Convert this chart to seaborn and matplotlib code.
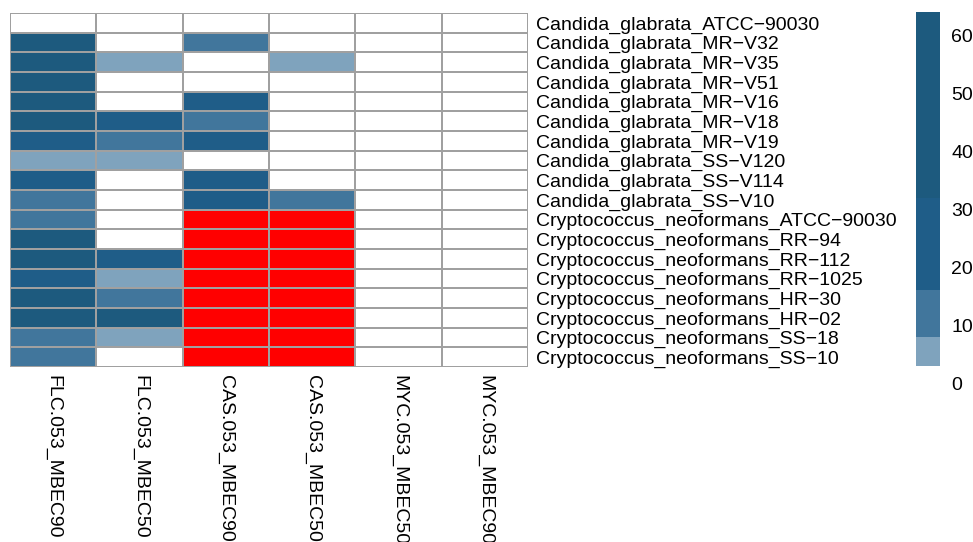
import numpy as np
import pandas as pd
import matplotlib
matplotlib.use("Agg")
import matplotlib.pyplot as plt
import seaborn as sns
from matplotlib.colors import ListedColormap, BoundaryNorm

# =========================
# DATA (MBEC values per strain / drug)
# =========================
strains = [
    "Candida_glabrata_ATCC−90030",
    "Candida_glabrata_MR−V32",
    "Candida_glabrata_MR−V35",
    "Candida_glabrata_MR−V51",
    "Candida_glabrata_MR−V16",
    "Candida_glabrata_MR−V18",
    "Candida_glabrata_MR−V19",
    "Candida_glabrata_SS−V120",
    "Candida_glabrata_SS−V114",
    "Candida_glabrata_SS−V10",
    "Cryptococcus_neoformans_ATCC−90030",
    "Cryptococcus_neoformans_RR−94",
    "Cryptococcus_neoformans_RR−112",
    "Cryptococcus_neoformans_RR−1025",
    "Cryptococcus_neoformans_HR−30",
    "Cryptococcus_neoformans_HR−02",
    "Cryptococcus_neoformans_SS−18",
    "Cryptococcus_neoformans_SS−10",
]
drugs = ["FLC.053_MBEC90", "FLC.053_MBEC50", "CAS.053_MBEC90",
         "CAS.053_MBEC50", "MYC.053_MBEC50", "MYC.053_MBEC90"]

# 128 = out of range (drawn red)
flc90 = [0, 32, 32, 32, 32, 32, 16, 4, 16, 8, 8, 32, 32, 16, 32, 32, 8, 8]
flc50 = [0, 0, 4, 0, 0, 16, 8, 4, 0, 0, 0, 0, 16, 4, 8, 32, 4, 0]
cas90 = [0, 8, 0, 0, 16, 8, 16, 0, 16, 16, 128, 128, 128, 128, 128, 128, 128, 128]
cas50 = [0, 0, 4, 0, 0, 0, 0, 0, 0, 8, 128, 128, 128, 128, 128, 128, 128, 128]
myc50 = [0] * 18
myc90 = [0] * 18

df = pd.DataFrame({
    drugs[0]: flc90, drugs[1]: flc50, drugs[2]: cas90,
    drugs[3]: cas50, drugs[4]: myc50, drugs[5]: myc90,
}, index=strains)

# =========================
# COLOURS
# =========================
bounds = [0, 3, 8, 16, 32, 64]
cmap = ListedColormap(["#ffffff", "#7fa3bd", "#41769c", "#1f5d88", "#1d5a7e"])
cmap.set_over("#ff0000")
norm = BoundaryNorm(bounds, cmap.N)

# =========================
# PLOT
# =========================
W, H = 973, 542
fig = plt.figure(figsize=(W / 100, H / 100), dpi=100)
plt.rcParams["font.family"] = ["Liberation Sans", "DejaVu Sans"]

ax = fig.add_axes([10 / W, (H - 367) / H, 518 / W, 354 / H])
cax = fig.add_axes([916 / W, (H - 383) / H, 24 / W, 371 / H])

sns.heatmap(df, ax=ax, cbar_ax=cax, cmap=cmap, norm=norm,
            linewidths=1.4, linecolor="#a0a0a0",
            cbar_kws={"spacing": "proportional",
                      "ticks": [0, 10, 20, 30, 40, 50, 60]})

ax.yaxis.tick_right()
ax.set_yticklabels(strains, rotation=0, fontsize=14)
ax.set_xticklabels(drugs, rotation=270, fontsize=14)
ax.tick_params(axis="both", length=0)
ax.tick_params(axis="y", pad=6)
ax.tick_params(axis="x", pad=6)
for lab in ax.get_xticklabels():
    lab.set_verticalalignment("top")
ax.set_xlabel("")
ax.set_ylabel("")

cbar = ax.collections[0].colorbar
cbar.outline.set_visible(False)
cbar.minorticks_off()
cax.tick_params(which="both", length=0, labelsize=14, pad=8)
cax.set_yticklabels(["0", "10", "20", "30", "40", "50", "60"])

fig.savefig("out.png", dpi=100)
